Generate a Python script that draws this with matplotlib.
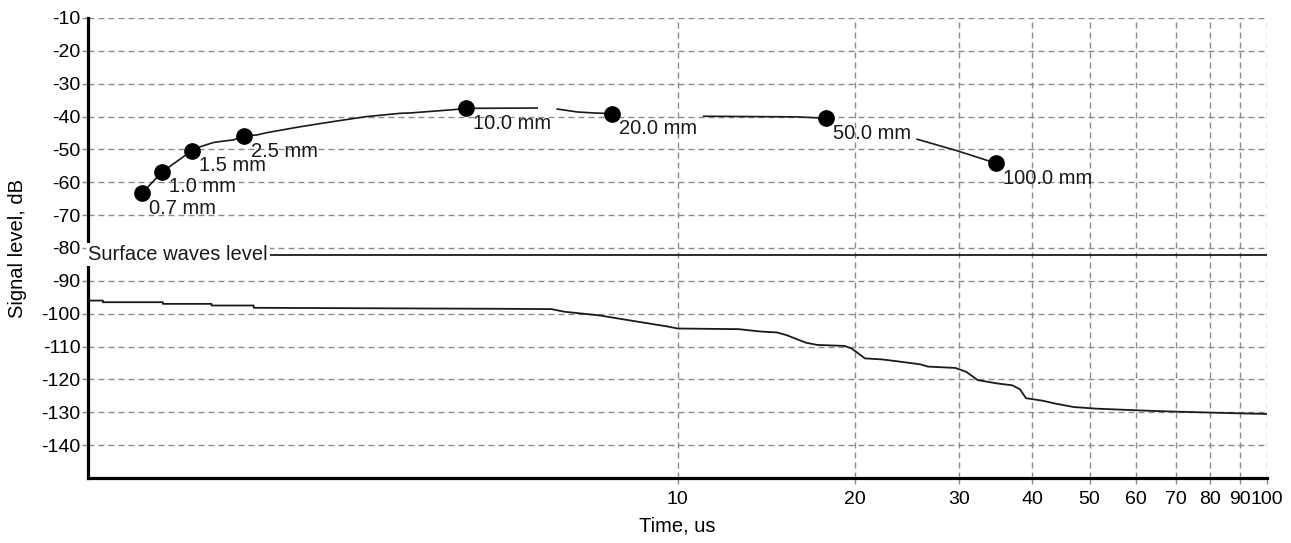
import matplotlib.pyplot as plt
import numpy as np

plt.rcParams['font.family'] = ['Liberation Sans', 'DejaVu Sans']

# echo amplitude vs time for different reflector sizes (nan = break in the trace)
curve_t = [1.233, 1.337, 1.50, 1.549, 1.632, 1.675, 1.765, 1.84, 1.934, 2.01, 2.29, 2.61,
           2.97, 3.39, 3.52, 3.83, 4.17, 4.38, 5.78, np.nan, 6.25, 6.76, 7.21, 7.75, np.nan,
           11.08, 15.97, 17.84, np.nan, 25.5, 29.8, 34.7]
curve_db = [-63.4, -56.8, -50.4, -49.2, -47.9, -47.6, -47.1, -45.9, -45.6, -44.9, -43.1, -41.5,
            -40.0, -39.0, -38.9, -38.4, -37.9, -37.5, -37.4, np.nan, -37.7, -38.6, -38.9, -39.1, np.nan,
            -39.9, -40.1, -40.5, np.nan, -46.9, -50.4, -54.2]

# marked points
mark_t = [1.233, 1.337, 1.50, 1.84, 4.38, 7.75, 17.84, 34.7]
mark_db = [-63.4, -56.8, -50.4, -45.9, -37.5, -39.1, -40.5, -54.2]
mark_labels = ['0.7 mm', '1.0 mm', '1.5 mm', '2.5 mm', '10.0 mm', '20.0 mm', '50.0 mm', '100.0 mm']

# noise level
noise_t = [1.0, 1.06, 1.06, 1.34, 1.34, 1.62, 1.62, 1.91, 1.91, 5.0, 6.11, 6.43, 7.36, 8.41,
           9.63, 10.0, 12.7, 13.8, 14.75, 15.3, 16.5, 17.26, 19.2, 19.75, 20.8, 22.2, 23.4,
           25.8, 26.6, 29.6, 30.9, 32.3, 34.8, 37.0, 38.1, 39.0, 41.7, 43.6, 47.0, 51.4,
           64.3, 76.7, 88.7, 100]
noise_db = [-96.0, -96.0, -96.5, -96.5, -97.0, -97.0, -97.5, -97.5, -98.2, -98.5, -98.6, -99.4,
            -100.5, -102.2, -103.9, -104.5, -104.7, -105.4, -105.7, -106.5, -108.8, -109.5,
            -109.8, -110.6, -113.6, -113.9, -114.4, -115.4, -116.1, -116.5, -117.7, -120.2,
            -121.2, -121.8, -123.0, -125.7, -126.5, -127.3, -128.4, -128.9, -129.6, -130.0,
            -130.3, -130.5]

surface_level = -82
surface_label = 'Surface waves level'

x_ticks = [10, 20, 30, 40, 50, 60, 70, 80, 90, 100]
y_ticks = list(range(-140, 0, 10))

fig = plt.figure(figsize=(12.91, 5.43), dpi=100)
ax = fig.add_axes([88 / 1291, 1 - 478 / 543, (1267 - 88) / 1291, (478 - 18) / 543])
ax.set_xscale('log')
ax.set_xlim(1, 100)
ax.set_ylim(-150, -10)

ax.set_xticks(x_ticks)
ax.set_xticklabels([str(t) for t in x_ticks])
ax.xaxis.set_minor_locator(plt.NullLocator())
ax.set_yticks(y_ticks)
ax.set_yticklabels([str(t) for t in y_ticks])

ax.grid(True, color='#8a8a8a', linestyle=(0, (4.3, 2.9)), linewidth=1.0)
ax.tick_params(axis='both', length=4.5, width=1.0, color='#8a8a8a', labelsize=14, pad=1)
ax.tick_params(axis='x', pad=5)

for s in ['top', 'right']:
    ax.spines[s].set_visible(False)
for s in ['left', 'bottom']:
    ax.spines[s].set_linewidth(2.3)
    ax.spines[s].set_color('black')

ax.plot(noise_t, noise_db, color='#1a1a1a', linewidth=1.3, zorder=3)
ax.plot(curve_t, curve_db, color='#1a1a1a', linewidth=1.2, zorder=3)
ax.plot(mark_t, mark_db, 'o', color='black', markersize=11, zorder=4)
for t, db, lab in zip(mark_t, mark_db, mark_labels):
    ax.annotate(lab, (t, db), xytext=(5, -4), textcoords='offset points',
                ha='left', va='top', fontsize=14.5, color='#1a1a1a', zorder=5)

ax.axhline(surface_level, color='#1a1a1a', linewidth=1.3, zorder=3)
ax.text(1.0, surface_level, surface_label, ha='left', va='center', fontsize=14.5, color='#1a1a1a',
        zorder=6, clip_on=False,
        bbox=dict(facecolor='white', edgecolor='none', pad=1.5))

ax.set_xlabel('Time, us', fontsize=14.5, labelpad=6)
ax.set_ylabel('Signal level, dB', fontsize=14.5, labelpad=10)

fig.savefig('out.png', dpi=100)
